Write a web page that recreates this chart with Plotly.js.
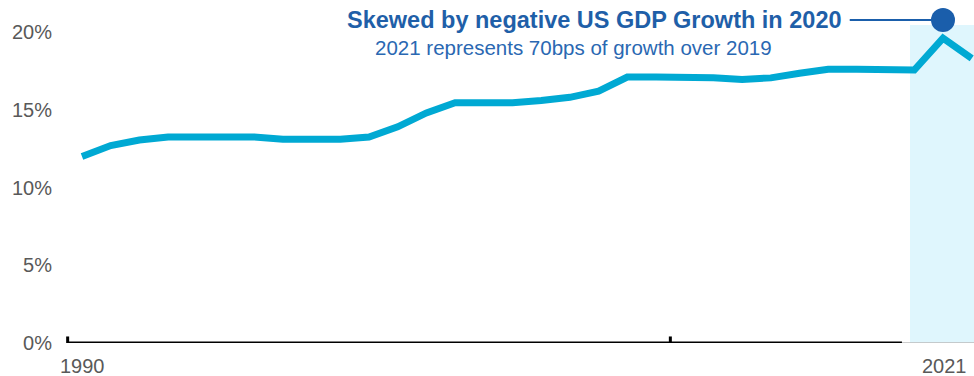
<!DOCTYPE html>
<html>
<head>
<meta charset="utf-8">
<script src="https://cdn.plot.ly/plotly-3.0.1.min.js"></script>
<style>
html,body{margin:0;padding:0;background:#fff;}
#chart{width:974px;height:376px;}
</style>
</head>
<body>
<div id="chart"></div>
<script>
const years = [1990,1991,1992,1993,1994,1995,1996,1997,1998,1999,2000,2001,2002,2003,2004,2005,2006,2007,2008,2009,2010,2011,2012,2013,2014,2015,2016,2017,2018,2019,2020,2021];
const shareValues = [12.0,12.7,13.05,13.25,13.25,13.3,13.25,13.1,13.1,13.1,13.25,13.9,14.8,15.45,15.45,15.45,15.6,15.8,16.2,17.1,17.1,17.1,17.05,16.95,17.05,17.35,17.6,17.6,17.55,17.55,19.6,18.3];
const yTickVals = [0,5,10,15,20];
const yTickText = ['0%','5%','10%','15%','20%'];
const xLabels = ['1990','2021'];
const xLabelPos = [1990, 2020.05];
const highlightYear = 2020;
const highlightDotY = 20.77;
const titleText = 'Skewed by negative US GDP Growth in 2020';
const subText = '2021 represents 70bps of growth over 2019';

const FONT = 'Liberation Sans, Arial, sans-serif';
const xMin = 1989.06, xMax = 2021.08;

const traces = [
  {
    x: years, y: shareValues, type: 'scatter', mode: 'lines',
    line: {color: '#00A9D3', width: 7, shape: 'linear'},
    hoverinfo: 'skip', cliponaxis: true
  },
  {
    x: [highlightYear], y: [highlightDotY], type: 'scatter', mode: 'markers',
    marker: {color: '#1A5EAB', size: 24},
    hoverinfo: 'skip', cliponaxis: false
  }
];

const shapes = [
  {type:'rect', xref:'x', yref:'y', x0:2018.85, x1:xMax, y0:0, y1:20.45, fillcolor:'#DFF6FD', line:{width:0}, layer:'below'},
  {type:'line', xref:'x', yref:'y', x0:1989.5, x1:2018.57, y0:0, y1:0, line:{color:'#000', width:3}},
  {type:'line', xref:'x', yref:'y', x0:2018.57, x1:xMax, y0:0, y1:0, line:{color:'#BBBBBB', width:1.5}},
  {type:'line', xref:'x', yref:'y', x0:1989.5, x1:1989.5, y0:0, y1:0.42, line:{color:'#000', width:3}},
  {type:'line', xref:'x', yref:'y', x0:2010.5, x1:2010.5, y0:0, y1:0.42, line:{color:'#000', width:3}},
  {type:'line', xref:'x', yref:'y', x0:2016.75, x1:2019.6, y0:highlightDotY, y1:highlightDotY, line:{color:'#1A5EAB', width:2}}
];

const annotations = [
  {xref:'x', yref:'y', x:2016.55, y:highlightDotY, xanchor:'right', yanchor:'middle', text:'<b>'+titleText+'</b>', showarrow:false, font:{family:FONT, size:23.5, color:'#1F5FA8'}},
  {xref:'x', yref:'y', x:2014.1, y:19.0, xanchor:'right', yanchor:'middle', text:subText, showarrow:false, font:{family:FONT, size:20.5, color:'#2A68B2'}}
];
xLabels.forEach((t,i)=>{
  annotations.push({xref:'x', yref:'paper', x:xLabelPos[i], y:0, yanchor:'top', xanchor:'center', yshift:-10, text:t, showarrow:false, font:{family:FONT, size:20, color:'#595959'}});
});

const layout = {
  width: 974, height: 376,
  margin: {l: 53, r: 0, t: 0, b: 33, pad: 0},
  paper_bgcolor: '#fff', plot_bgcolor: 'rgba(0,0,0,0)',
  showlegend: false,
  xaxis: {range:[1990 - (82-53)/28.7, xMax], showgrid:false, zeroline:false, showline:false, showticklabels:false, ticks:'', fixedrange:true},
  yaxis: {range:[0, 343/15.55], showgrid:false, zeroline:false, showline:false, tickvals:yTickVals, ticktext:yTickText, ticks:'', tickfont:{family:FONT, size:20, color:'#595959'}, fixedrange:true},
  shapes: shapes,
  annotations: annotations
};

Plotly.newPlot('chart', traces, layout, {displayModeBar:false, staticPlot:true});
</script>
</body>
</html>
